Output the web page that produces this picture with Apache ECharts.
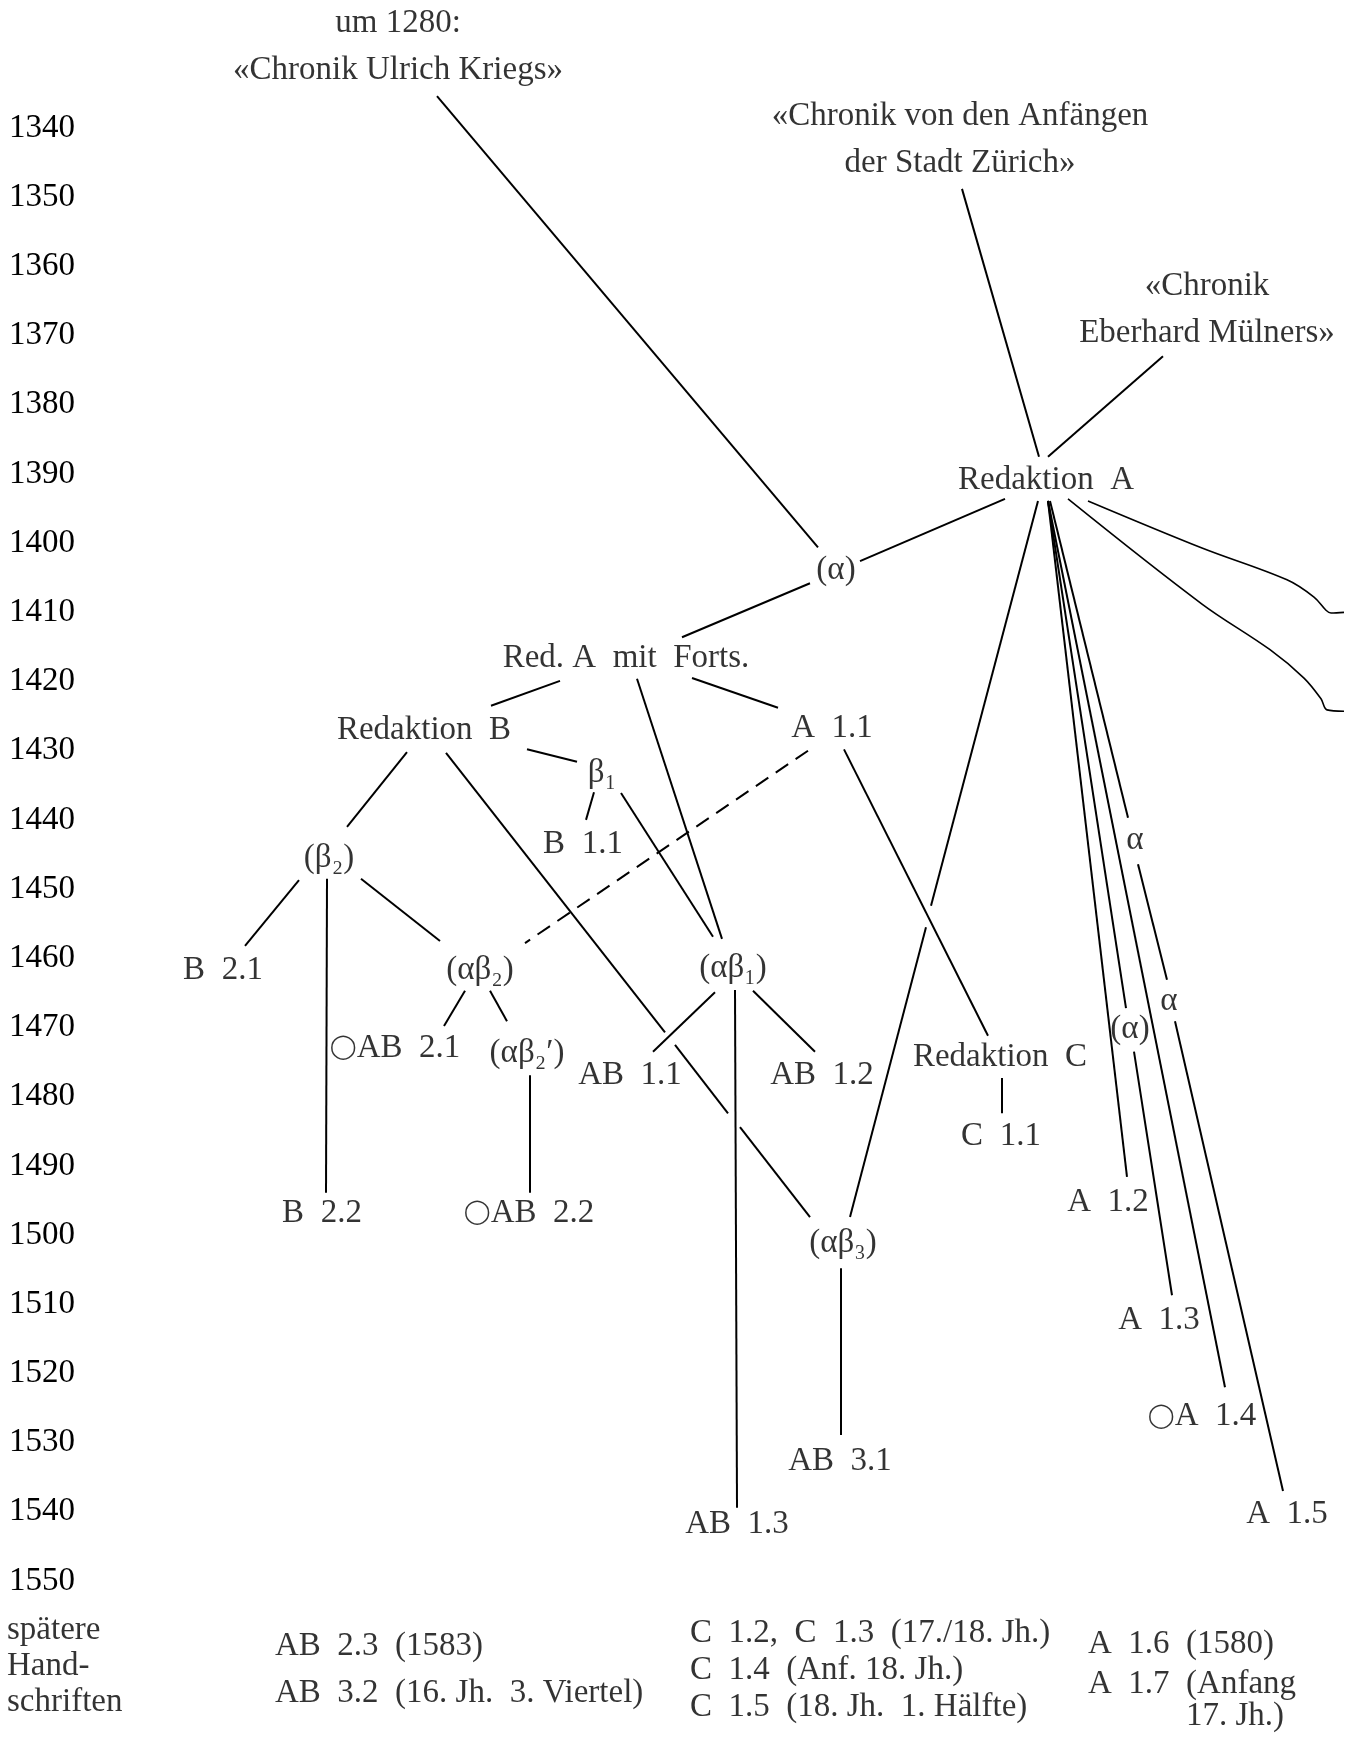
<!DOCTYPE html>
<html>
<head>
<meta charset="utf-8">
<script src="https://cdn.jsdelivr.net/npm/echarts@6/dist/echarts.min.js"></script>
<style>
html,body{margin:0;padding:0;background:#ffffff;}
#chart{width:1351px;height:1746px;}
</style>
</head>
<body>
<div id="chart"></div>
<script>
// ---------- DATA ----------
// Year ticks of the time scale
const yearTicks = [1340,1350,1360,1370,1380,1390,1400,1410,1420,1430,1440,1450,1460,1470,1480,1490,1500,1510,1520,1530,1540,1550];

// Stemma nodes: label, horizontal lane position, dating (year)
const nodeLabels = [
  "um 1280:\n«Chronik Ulrich Kriegs»",
  "«Chronik von den Anfängen\nder Stadt Zürich»",
  "«Chronik\nEberhard Mülners»",
  "Redaktion  A", "(α)", "Red. A  mit  Forts.", "Redaktion  B", "A  1.1",
  "β₁", "B  1.1", "(β₂)", "B  2.1", "(αβ₂)", "(αβ₁)", "○AB  2.1", "(αβ₂′)",
  "AB  1.1", "AB  1.2", "Redaktion  C", "C  1.1", "B  2.2", "○AB  2.2", "(αβ₃)",
  "AB  3.1", "AB  1.3", "A  1.2", "A  1.3", "○A  1.4", "A  1.5", "α", "α", "(α)"
];
const nodeLane = [
  398, 960, 1207,
  1046, 836, 626, 424, 832,
  602, 583, 329, 223, 480, 733, 395, 527,
  630, 822, 1000, 1001, 322, 529, 843,
  840, 737, 1108, 1159, 1202, 1287, 1135, 1169, 1130
];
const nodeYear = [
  1328.3, 1341.7, 1366.3,
  1390.9, 1403.9, 1416.6, 1427.0, 1426.7,
  1433.2, 1443.6, 1445.5, 1461.8, 1461.8, 1461.5, 1473.0, 1473.7,
  1476.9, 1476.9, 1474.3, 1485.7, 1496.8, 1496.8, 1501.2,
  1532.7, 1541.8, 1495.2, 1512.3, 1526.2, 1540.3, 1443.0, 1466.2, 1470.2
];

// Filiation lines: [lane1, year1, lane2, year2]
const filiations = [
  [437,1335.4, 818,1400.6],
  [962,1348.8, 1039,1387.5],
  [1163,1373.0, 1048,1387.5],
  [1005,1393.6, 860,1402.6],
  [810,1405.8, 682,1413.6],
  [560,1419.9, 491,1423.5],
  [637,1419.6, 722,1457.2],
  [692,1419.5, 778,1423.8],
  [527,1429.8, 577,1431.6],
  [594,1436.0, 586,1440.0],
  [621,1436.1, 713,1456.9],
  [407,1430.2, 347,1441.0],
  [446,1430.3, 665,1470.7],
  [675,1472.5, 728,1482.4],
  [740,1484.4, 810,1497.4],
  [299,1448.7, 245,1458.2],
  [327,1448.5, 326,1493.9],
  [361,1448.5, 440,1457.5],
  [465,1464.7, 444,1469.8],
  [490,1464.7, 507,1469.1],
  [530,1476.9, 530,1493.9],
  [715,1464.9, 653,1473.5],
  [735,1464.6, 737,1539.4],
  [753,1464.7, 815,1473.5],
  [844,1429.8, 988,1471.2],
  [1002,1477.3, 1002,1482.4],
  [1038,1393.9, 931,1452.4],
  [926,1455.5, 850,1497.4],
  [841,1504.8, 841,1528.9],
  [1048,1393.9, 1127,1491.6],
  [1048,1393.9, 1126,1467.2],
  [1134,1473.5, 1172,1508.7],
  [1048,1393.9, 1225,1522.0],
  [1050,1393.9, 1128,1439.7],
  [1138,1446.4, 1167,1463.1],
  [1175,1469.1, 1283,1537.0]
];
// Contamination (dashed)
const contaminations = [
  [808,1430.0, 525,1457.8]
];
// Branches leaving the page on the right
const branchUpper = [[1088,1393.9],[1202,1400.7],[1287,1405.3],[1314,1407.8],[1326,1409.7],[1331,1410.1],[1344,1410.0]];
const branchLower = [[1068,1393.6],[1202,1408.8],[1270,1415.4],[1304,1419.5],[1321,1422.5],[1327,1424.1],[1344,1424.3]];

// Later manuscripts (below 1550)
const laterCaption = { text: "spätere\nHand-\nschriften", lane: 7, year: 1562.4 };
const laterGroups = [
  { text: "AB  2.3  (1583)\nAB  3.2  (16. Jh.  3. Viertel)", lane: 275, year: 1562.9 },
  { text: "C  1.2,  C  1.3  (17./18. Jh.)\nC  1.4  (Anf. 18. Jh.)\nC  1.5  (18. Jh.  1. Hälfte)", lane: 690, year: 1562.9 },
  { text: "A  1.6  (1580)\nA  1.7  (Anfang", lane: 1088, year: 1562.1 },
  { text: "17. Jh.)", lane: 1186, year: 1569.5 }
];

// ---------- CHART ----------
const FONT = '"Liberation Serif", "Times New Roman", serif';
const INK = '#000000';
const chart = echarts.init(document.getElementById('chart'), null, {renderer: 'canvas', width: 1351, height: 1746});

function textSeries(items, align, lineHeight, z) {
  return {
    type: 'scatter',
    coordinateSystem: 'cartesian2d',
    symbol: 'rect',
    symbolSize: 1,
    itemStyle: { color: 'transparent' },
    clip: false,
    silent: true,
    z: z || 5,
    data: items.map(it => ({ name: it.text, value: [it.lane, it.year] })),
    label: {
      show: true,
      position: 'inside',
      formatter: p => p.name.replace(/○/g, '{c|◯}'),
      align: align,
      verticalAlign: 'middle',
      fontFamily: FONT,
      fontSize: 33,
      lineHeight: lineHeight,
      color: INK,
      rich: {
        c: { fontFamily: '"DejaVu Sans", sans-serif', fontSize: 24, color: INK, lineHeight: lineHeight }
      }
    }
  };
}

const nodeItems = nodeLabels.map((t, i) => ({ text: t, lane: nodeLane[i], year: nodeYear[i] }));

const option = {
  backgroundColor: '#ffffff',
  animation: false,
  grid: { left: 0, right: 0, top: 58.81, bottom: 26.63, containLabel: false, outerBoundsMode: 'none' },
  xAxis: { type: 'value', min: 0, max: 1351, show: false },
  yAxis: {
    type: 'value', inverse: true, min: 1330, max: 1570, interval: 10,
    axisLine: { show: false }, axisTick: { show: false }, splitLine: { show: false },
    axisLabel: {
      inside: true, margin: 9, align: 'left',
      fontFamily: FONT, fontSize: 33, color: INK,
      formatter: v => (yearTicks.indexOf(v) >= 0 ? String(v) : '')
    }
  },
  series: [
    {
      type: 'lines', coordinateSystem: 'cartesian2d', clip: false, silent: true, z: 2,
      lineStyle: { color: INK, width: 2, opacity: 1, curveness: 0 },
      data: filiations.map(s => ({ coords: [[s[0], s[1]], [s[2], s[3]]] }))
    },
    {
      type: 'lines', coordinateSystem: 'cartesian2d', clip: false, silent: true, z: 2,
      lineStyle: { color: INK, width: 2, opacity: 1, type: [15, 9] },
      data: contaminations.map(s => ({ coords: [[s[0], s[1]], [s[2], s[3]]] }))
    },
    {
      type: 'line', data: branchUpper, smooth: 0.35, showSymbol: false, clip: false, silent: true, z: 2,
      lineStyle: { color: INK, width: 1.6 }
    },
    {
      type: 'line', data: branchLower, smooth: 0.35, showSymbol: false, clip: false, silent: true, z: 2,
      lineStyle: { color: INK, width: 1.6 }
    },
    textSeries(nodeItems, 'center', 47, 5),
    textSeries([laterCaption], 'left', 36, 5),
    textSeries([laterGroups[0]], 'left', 47, 5),
    textSeries([laterGroups[1]], 'left', 37, 5),
    textSeries([laterGroups[2], laterGroups[3]], 'left', 40, 5)
  ]
};
chart.setOption(option);
</script>
</body>
</html>
